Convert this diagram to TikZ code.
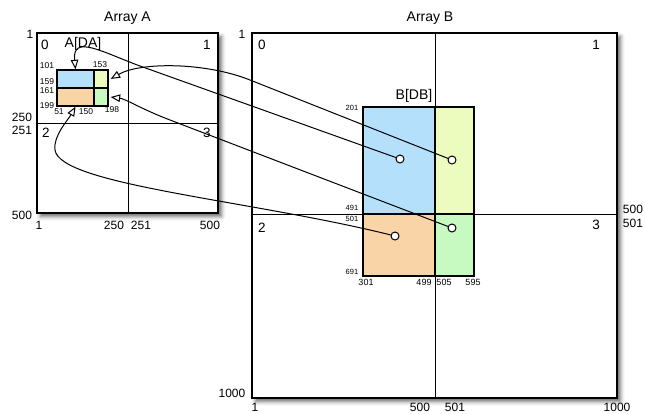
\documentclass[tikz,border=0pt]{standalone}
\usepackage{fontspec}
\setmainfont{Liberation Sans}
\usetikzlibrary{arrows.meta,shadows.blur}
\definecolor{cellblue}{RGB}{180,224,252}
\definecolor{cellyellow}{RGB}{236,251,190}
\definecolor{cellorange}{RGB}{248,212,166}
\definecolor{cellgreen}{RGB}{199,250,192}
\begin{document}
\begin{tikzpicture}[x=1pt,y=-1pt,
  arraybox/.style={draw,line width=1.6pt,fill=white,inner sep=0pt,
    blur shadow={shadow xshift=3.5pt,shadow yshift=-3.5pt,shadow blur radius=4pt,shadow opacity=60}},
  midline/.style={line width=0.8pt},
  cell/.style={draw,line width=1.3pt,inner sep=0pt},
  title/.style={font=\fontsize{14}{14}\selectfont},
  quad/.style={font=\fontsize{13.5}{14}\selectfont},
  axis/.style={font=\fontsize{12}{12}\selectfont},
  smalla/.style={font=\fontsize{8.5}{9}\selectfont,inner sep=0pt},
  smallb/.style={font=\fontsize{7.5}{8}\selectfont,inner sep=0pt},
  smallc/.style={font=\fontsize{9}{10}\selectfont,inner sep=0pt},
  endpt/.style={circle,draw,fill=white,line width=1pt,inner sep=0pt,minimum size=8pt},
  link/.style={line width=1pt,-{Triangle[open,length=9.5pt,width=7.5pt]}}
]
\useasboundingbox (0,0) rectangle (645,413);

% ---- Array A ----
\node[title,anchor=base] (titA) at (127.5,21) {Array A};
\node[arraybox,minimum width=181pt,minimum height=180pt] (A) at (127.5,123) {};
\coordinate (Amid) at (128,123);
\draw[midline] (Amid |- A.north) -- (Amid |- A.south);
\draw[midline] (Amid -| A.west) -- (Amid -| A.east);

\node[cell,fill=cellblue,minimum width=37pt,minimum height=18pt] (ablue) at (75.5,79) {};
\node[cell,fill=cellyellow,minimum width=14pt,minimum height=18pt] (ayel) at (101,79) {};
\node[cell,fill=cellorange,minimum width=37pt,minimum height=18pt] (aor) at (75.5,97) {};
\node[cell,fill=cellgreen,minimum width=14pt,minimum height=18pt] (agrn) at (101,97) {};

\node[axis] (lA1) at (30,34) {1};
\node[quad] (qA0) at (45,45) {0};
\node[quad] (qA1) at (207,45) {1};
\node[quad] (qA2) at (46,133) {2};
\node[quad] (qA3) at (207,133) {3};
\node[axis] (lA250) at (22,117) {250};
\node[axis] (lA251) at (22,130) {251};
\node[axis] (lA500) at (22,215) {500};
\node[axis] (bA1) at (39,225) {1};
\node[axis] (bA250) at (114,225) {250};
\node[axis] (bA251) at (141,225) {251};
\node[axis] (bA500) at (210,225) {500};
\node[title,anchor=base] (lDA) at (83,47) {A[DA]};

\node[smalla] (a101) at (47,66) {101};
\node[smalla] (a159) at (47,82) {159};
\node[smalla] (a161) at (47,91) {161};
\node[smalla] (a199) at (47,106) {199};
\node[smalla] (a51) at (59,112) {51};
\node[smalla] (a150) at (86,112) {150};
\node[smalla] (a198) at (112,110) {198};
\node[smalla] (a153) at (100,65) {153};

% ---- Array B ----
\node[title,anchor=base] (titB) at (430,21) {Array B};
\node[arraybox,minimum width=365pt,minimum height=365pt] (B) at (434.5,215.5) {};
\coordinate (Bmid) at (435,214);
\draw[midline] (Bmid |- B.north) -- (Bmid |- B.south);
\draw[midline] (Bmid -| B.west) -- (Bmid -| B.east);

\node[cell,fill=cellblue,minimum width=72pt,minimum height=107pt] (bblue) at (399,160.5) {};
\node[cell,fill=cellyellow,minimum width=39pt,minimum height=107pt] (byel) at (454.5,160.5) {};
\node[cell,fill=cellorange,minimum width=72pt,minimum height=62pt] (bor) at (399,245) {};
\node[cell,fill=cellgreen,minimum width=39pt,minimum height=62pt] (bgrn) at (454.5,245) {};

\node[axis] (lB1) at (242,34) {1};
\node[quad] (qB0) at (262,45) {0};
\node[quad] (qB1) at (596,45) {1};
\node[quad] (qB2) at (262,228) {2};
\node[quad] (qB3) at (596,225) {3};
\node[axis] (rB500) at (633,209) {500};
\node[axis] (rB501) at (633,223) {501};
\node[axis] (lB1000) at (232,393) {1000};
\node[axis] (bB1) at (255,407) {1};
\node[axis] (bB500) at (420,407) {500};
\node[axis] (bB501) at (455,407) {501};
\node[axis] (bB1000) at (617,407) {1000};
\node[title,anchor=base] (lDB) at (414,99) {B[DB]};

\node[smallb] (b201) at (352,108) {201};
\node[smallb] (b491) at (352,208) {491};
\node[smallb] (b501) at (352,219) {501};
\node[smallb] (b691) at (352,272) {691};
\node[smallc] (b301) at (366,282) {301};
\node[smallc] (b499) at (424,282) {499};
\node[smallc] (b505) at (444,282) {505};
\node[smallc] (b595) at (473,282) {595};

% ---- mapping of B cells back to A cells ----
\node[endpt] (cy) at (452,160) {};
\node[endpt] (cb) at (400,159) {};
\node[endpt] (cg) at (452,228) {};
\node[endpt] (co) at (395,236) {};

\draw[link] (cy) -- (250,80) .. controls (205,62) and (140,62) .. ([xshift=2pt]ayel.east);
\draw[link] (cb) -- (140,66) .. controls (102,52) and (72,34) .. (ablue.north);
\draw[link] (cg) -- (170,120) .. controls (140,108.5) and (126,99) .. ([xshift=2pt]agrn.east);
\draw[link] (co) .. controls (250,200) and (60,185) .. (55,150)
  .. controls (53,136) and (68,120) .. (aor.south);
\end{tikzpicture}
\end{document}
